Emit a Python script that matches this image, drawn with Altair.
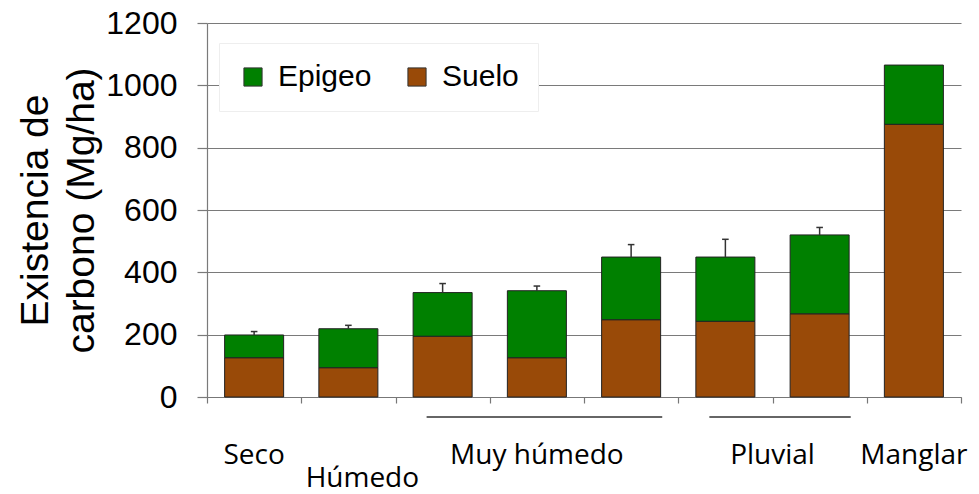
import altair as alt
import pandas as pd

# ---- data ----
categorias = ["Seco", "Húmedo", "Muy húmedo 1", "Muy húmedo 2", "Muy húmedo 3",
              "Pluvial 1", "Pluvial 2", "Manglar"]
suelo = [126, 94, 195, 126, 248, 243, 267, 875]
total = [199, 219, 335, 341, 449, 449, 520, 1065]
error_sup = [210, 230, 364, 356, 489, 506, 544, None]

grupos = ["Seco", "Húmedo", "Muy húmedo", "Pluvial", "Manglar"]
grupo_inicio = [0, 1, 2, 5, 7]
grupo_fin = [0, 1, 4, 6, 7]
grupo_fila = [0, 1, 0, 0, 0]
grupo_linea = [False, False, True, True, False]

componentes = ["Epigeo", "Suelo"]
colores = ["#008000", "#994A08"]
y_ticks = [0, 200, 400, 600, 800, 1000, 1200]

# ---- tables ----
rows = []
for i, c in enumerate(categorias):
    rows.append({"cat": c, "idx": i, "comp": "Suelo", "v0": 0, "v1": suelo[i]})
    rows.append({"cat": c, "idx": i, "comp": "Epigeo", "v0": suelo[i], "v1": total[i]})
bars_df = pd.DataFrame(rows)

err_df = pd.DataFrame({"idx": list(range(len(categorias))), "total": total, "err": error_sup}).dropna()

grp_df = pd.DataFrame({"grupo": grupos, "ini": grupo_inicio, "fin": grupo_fin,
                       "fila": grupo_fila, "linea": grupo_linea})

FONT = "Liberation Sans"
W, H = 754, 374

xscale = alt.Scale(domain=[0, len(categorias)], nice=False, zero=False)
yscale = alt.Scale(domain=[0, 1200], nice=False)

bars = alt.Chart(bars_df).transform_calculate(
    xa="datum.idx + 0.187", xb="datum.idx + 0.813"
).mark_bar(stroke="#222222", strokeWidth=1).encode(
    x=alt.X("xa:Q", scale=xscale,
            axis=alt.Axis(values=list(range(len(categorias) + 1)), labels=False, grid=False,
                          tickSize=6, tickColor="#777777", domainColor="#777777",
                          domainWidth=1.2, tickWidth=1.2, title=None)),
    x2="xb:Q",
    y=alt.Y("v0:Q", scale=yscale,
            axis=alt.Axis(values=y_ticks, format="d", grid=True, gridColor="#7a7a7a", gridWidth=1.2,
                          tickSize=10, tickColor="#7a7a7a", tickWidth=1.2,
                          domainColor="#7a7a7a", domainWidth=1.2,
                          labelFont=FONT, labelFontSize=32, labelColor="black",
                          labelPadding=20,
                          title=["Existencia de", "carbono (Mg/ha)"],
                          titleFont=FONT, titleFontSize=39, titleFontWeight="normal",
                          titleColor="black", titleLineHeight=46, titlePadding=4)),
    y2="v1:Q",
    color=alt.Color("comp:N", scale=alt.Scale(domain=componentes, range=colores),
                    legend=alt.Legend(title=None, orient="none", legendX=12, legendY=20,
                                      direction="horizontal", fillColor="white",
                                      strokeColor="#eeeeee", padding=19,
                                      symbolType="square", symbolSize=330,
                                      symbolStrokeColor="#333333", symbolStrokeWidth=1,
                                      labelFont=FONT, labelFontSize=30, labelColor="black",
                                      labelOffset=10, columnPadding=30)),
)

err_line = alt.Chart(err_df).transform_calculate(xc="datum.idx + 0.5").mark_rule(
    color="#333333", strokeWidth=1.5).encode(
    x=alt.X("xc:Q", scale=xscale), y=alt.Y("total:Q", scale=yscale), y2="err:Q")

err_cap = alt.Chart(err_df).transform_calculate(
    xa="datum.idx + 0.465", xb="datum.idx + 0.535").mark_rule(
    color="#333333", strokeWidth=1.5).encode(
    x=alt.X("xa:Q", scale=xscale), x2="xb:Q", y=alt.Y("err:Q", scale=yscale))

lbl_base = alt.Chart(grp_df).transform_calculate(
    xc="(datum.ini + datum.fin) / 2 + 0.5")

lbl0 = lbl_base.transform_filter("datum.fila == 0").mark_text(
    font="Open Sans", fontSize=28, color="black", baseline="alphabetic", align="center").encode(
    x=alt.X("xc:Q", scale=xscale), y=alt.value(441), text="grupo:N")

lbl1 = lbl_base.transform_filter("datum.fila == 1").mark_text(
    font="Open Sans", fontSize=28, color="black", baseline="alphabetic", align="center",
    dx=14).encode(
    x=alt.X("xc:Q", scale=xscale), y=alt.value(464), text="grupo:N")

underline = alt.Chart(grp_df).transform_filter("datum.linea").transform_calculate(
    xa="datum.ini + 0.33", xb="datum.fin + 0.83").mark_rule(
    color="#333333", strokeWidth=1.5).encode(
    x=alt.X("xa:Q", scale=xscale), x2="xb:Q", y=alt.value(394))

chart = alt.layer(bars, err_line, err_cap, underline, lbl0, lbl1).properties(
    width=W, height=H,
    autosize=alt.AutoSizeParams(type="none"),
    padding={"left": 207, "top": 23, "right": 18, "bottom": 97},
    background="white",
).configure_view(strokeWidth=0)

chart.save("out.html", embed_options={"renderer": "svg", "actions": False})
